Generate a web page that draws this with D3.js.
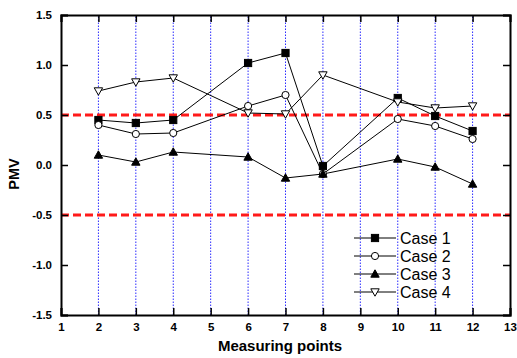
<!DOCTYPE html>
<html>
<head>
<meta charset="utf-8">
<script src="https://cdn.jsdelivr.net/npm/d3@7"></script>
<style>
  body { margin: 0; background: #fff; }
  svg { font-family: "Liberation Sans", Arial, sans-serif; }
</style>
</head>
<body>
<div id="root"></div>
<script>
// Data
const points = [2, 3, 4, 6, 7, 8, 10, 11, 12];
const case1 = [0.45, 0.42, 0.45, 1.02, 1.12, -0.01, 0.67, 0.49, 0.34];
const case2 = [0.40, 0.31, 0.32, 0.59, 0.70, -0.09, 0.46, 0.39, 0.26];
const case3 = [0.10, 0.03, 0.13, 0.08, -0.13, -0.09, 0.06, -0.02, -0.19];
const case4 = [0.74, 0.83, 0.87, 0.52, 0.51, 0.90, 0.63, 0.57, 0.59];
const seriesNames = ["Case 1", "Case 2", "Case 3", "Case 4"];
const xTicks = d3.range(1, 14);
const yTicks = [-1.5, -1.0, -0.5, 0.0, 0.5, 1.0, 1.5];
const gridX = d3.range(2, 13);
const limits = [0.5, -0.5];

const series = [
  { name: seriesNames[0], values: case1, symbol: "square", fill: "#000" },
  { name: seriesNames[1], values: case2, symbol: "circle", fill: "#fff" },
  { name: seriesNames[2], values: case3, symbol: "up", fill: "#000" },
  { name: seriesNames[3], values: case4, symbol: "down", fill: "#fff" }
];

const width = 517, height = 358;
const m = { left: 61, right: 7, top: 15, bottom: 43 };

const svg = d3.select("#root").append("svg")
  .attr("width", width)
  .attr("height", height);

const x = d3.scaleLinear().domain([1, 13]).range([m.left, width - m.right]);
const y = d3.scaleLinear().domain([-1.5, 1.5]).range([height - m.bottom, m.top]);

// blue dotted verticals
svg.append("g").selectAll("line")
  .data(gridX).join("line")
    .attr("x1", d => x(d)).attr("x2", d => x(d))
    .attr("y1", y(-1.5)).attr("y2", y(1.5))
    .attr("stroke", "#2b2bff")
    .attr("stroke-width", 1)
    .attr("stroke-dasharray", "1.5 1.5");

// red dashed limits
svg.append("g").selectAll("line")
  .data(limits).join("line")
    .attr("x1", x(1)).attr("x2", x(13))
    .attr("y1", d => y(d)).attr("y2", d => y(d))
    .attr("stroke", "#ff1a1a")
    .attr("stroke-width", 3)
    .attr("stroke-dasharray", "8 4");

// axes (ticks inside)
const fmtY = d => d3.format(".1f")(d).replace("\u2212", "-");
const minorX = d3.range(1, 13.01, 0.5);
const minorY = d3.range(-1.5, 1.51, 0.25);
const axB = svg.append("g").attr("transform", `translate(0,${y(-1.5)})`)
  .call(d3.axisBottom(x).tickValues(minorX).tickSize(-4).tickFormat(""));
axB.call(d3.axisBottom(x).tickValues(xTicks).tickSize(-7).tickPadding(8).tickFormat(d3.format("d")));
const axT = svg.append("g").attr("transform", `translate(0,${y(1.5)})`)
  .call(d3.axisTop(x).tickValues(minorX).tickSize(-4).tickFormat(""));
axT.call(d3.axisTop(x).tickValues(xTicks).tickSize(-7).tickFormat(""));
const axL = svg.append("g").attr("transform", `translate(${x(1)},0)`)
  .call(d3.axisLeft(y).tickValues(minorY).tickSize(-4).tickFormat(""));
axL.call(d3.axisLeft(y).tickValues(yTicks).tickSize(-7).tickPadding(9).tickFormat(fmtY));
const axR = svg.append("g").attr("transform", `translate(${x(13)},0)`)
  .call(d3.axisRight(y).tickValues(minorY).tickSize(-4).tickFormat(""));
axR.call(d3.axisRight(y).tickValues(yTicks).tickSize(-7).tickFormat(""));

svg.selectAll(".domain").attr("stroke", "#000").attr("stroke-width", 2);
svg.selectAll(".tick line").attr("stroke", "#000").attr("stroke-width", 1.5);
svg.selectAll(".tick text")
  .attr("font-family", "Liberation Sans, Arial, sans-serif")
  .attr("font-size", 11.5)
  .attr("font-weight", "bold")
  .attr("fill", "#000");

// titles
svg.append("text")
  .text("Measuring points")
  .attr("x", 280)
  .attr("y", 351)
  .attr("text-anchor", "middle")
  .attr("font-size", 15)
  .attr("font-weight", "bold");
svg.append("text")
  .text("PMV")
  .attr("transform", `translate(19,174)rotate(-90)`)
  .attr("text-anchor", "middle")
  .attr("font-size", 14.5)
  .attr("font-weight", "bold");

// markers
function marker(g, s) {
  if (s.symbol === "square") {
    g.append("rect").attr("x", -3.6).attr("y", -3.6)
      .attr("width", 7.2).attr("height", 7.2);
  } else if (s.symbol === "circle") {
    g.append("circle").attr("r", 3.6);
  } else if (s.symbol === "up") {
    g.append("path").attr("d", "M0,-4.2L4.2,3.2L-4.2,3.2Z");
  } else {
    g.append("path").attr("d", "M0,4.2L4.2,-3.2L-4.2,-3.2Z");
  }
  g.selectAll("*").attr("fill", s.fill).attr("stroke", "#000").attr("stroke-width", 1);
}

const lineGen = d3.line().x((d, i) => x(points[i])).y(d => y(d));

series.forEach(s => {
  svg.append("path")
    .datum(s.values)
    .attr("d", lineGen)
    .attr("fill", "none")
    .attr("stroke", "#000")
    .attr("stroke-width", 1);
});
series.forEach(s => {
  s.values.forEach((v, i) => {
    const g = svg.append("g").attr("transform", `translate(${x(points[i])},${y(v)})`);
    marker(g, s);
  });
});

// legend
const legend = svg.append("g").attr("transform", "translate(354,238)");
series.forEach((s, i) => {
  const row = legend.append("g").attr("transform", `translate(0,${i * 18})`);
  row.append("line").attr("x1", 0).attr("x2", 42).attr("stroke", "#000").attr("stroke-width", 1);
  marker(row.append("g").attr("transform", "translate(21,0)"), s);
  row.append("text").text(s.name)
    .attr("x", 46).attr("y", 5.5)
    .attr("font-size", 16);
});
</script>
</body>
</html>
